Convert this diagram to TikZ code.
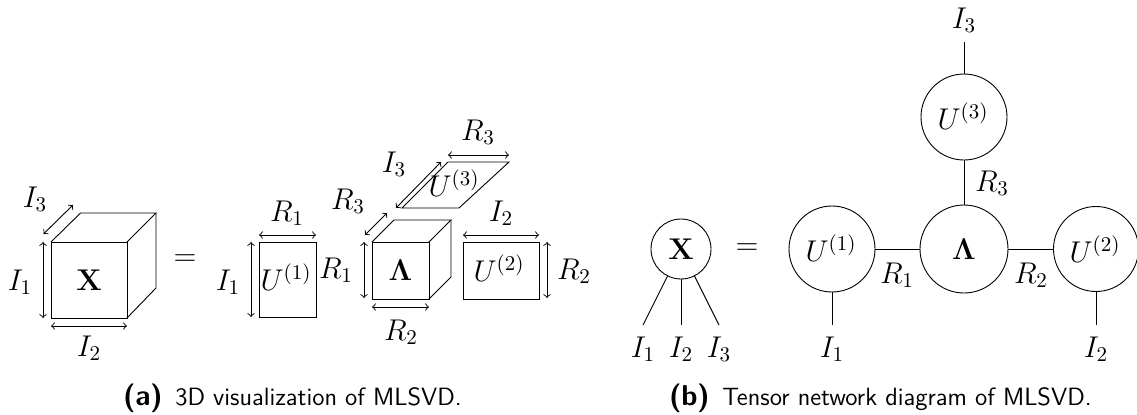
\RequirePackage{fix-cm}
\documentclass[tikz,border=0pt,11pt]{standalone}
\begin{document}
\begin{tikzpicture}[x=0.5pt,y=-0.5pt,line width=0.45pt,
  every node/.style={font=\fontsize{15}{18}\selectfont,inner sep=0pt,outer sep=0pt},
  face/.style={draw,rectangle},
  ball/.style={draw,circle},
  dimline/.style={<->},
  captext/.style={font=\fontsize{12.5}{15}\selectfont\sffamily,anchor=base west}]
\useasboundingbox (0,0) rectangle (1137,414);
% ---- (a) cube X
\node[face,minimum width=38pt,minimum height=38pt] (xf) at (89,280) {$\mathbf{X}$};
\coordinate (xb1) at (80.5,213);
\coordinate (xb2) at (156,213);
\coordinate (xb3) at (156,288);
\draw (xf.north west) -- (xb1) -- (xb2) -- (xf.north east);
\draw (xb2) -- (xb3) -- (xf.south east);
\coordinate (xa1) at (43,242); \coordinate (xa2) at (43,318);
\draw[dimline] (xa1) -- (xa2);
\coordinate (xa3) at (51,326); \coordinate (xa4) at (127,326);
\draw[dimline] (xa3) -- (xa4);
\coordinate (xa5) at (43.5,234); \coordinate (xa6) at (73,205);
\draw[dimline] (xa5) -- (xa6);
\node (lI3a) at (35,199) {$I_3$};
\node (lI1a) at (20,282) {$I_1$};
\node (lI2a) at (89,348) {$I_2$};
\node (eqa) at (185,260) {$=$};
% ---- U1 rectangle
\node[face,minimum width=28.5pt,minimum height=37.5pt] (u1) at (287.5,279.5) {};
\node (u1t) at (286,277) {$U^{(1)}$};
\coordinate (ua1) at (259,235); \coordinate (ua2) at (316,235);
\draw[dimline] (ua1) -- (ua2);
\coordinate (ua3) at (251,242); \coordinate (ua4) at (251,317);
\draw[dimline] (ua3) -- (ua4);
\node (lR1a) at (287,213) {$R_1$};
\node (lI1b) at (228,282) {$I_1$};
\node (lR1b) at (336,270) {$R_1$};
% ---- Lambda cube
\node[face,minimum width=28.5pt,minimum height=28.5pt] (lf) at (400.5,270.5) {$\mathbf{\Lambda}$};
\coordinate (lb1) at (394,220);
\coordinate (lb2) at (451,220);
\coordinate (lb3) at (451,277);
\draw (lf.north west) -- (lb1) -- (lb2) -- (lf.north east);
\draw (lb2) -- (lb3) -- (lf.south east);
\coordinate (la1) at (364,242); \coordinate (la2) at (364,298);
\draw[dimline] (la1) -- (la2);
\coordinate (la3) at (372,307); \coordinate (la4) at (429,307);
\draw[dimline] (la3) -- (la4);
\coordinate (la5) at (365,235); \coordinate (la6) at (387,213);
\draw[dimline] (la5) -- (la6);
\node (lR3a) at (348,201) {$R_3$};
\node (lR2a) at (401,332) {$R_2$};
% ---- U3 slab
\coordinate (s1) at (402,208);
\coordinate (s2) at (459,208);
\coordinate (s3) at (509,162);
\coordinate (s4) at (448,162);
\draw (s1) -- (s2) -- (s3) -- (s4) -- cycle;
\node (u3a) at (454,183) {$U^{(3)}$};
\coordinate (sa1) at (448,155); \coordinate (sa2) at (509,155);
\draw[dimline] (sa1) -- (sa2);
\coordinate (sa3) at (396,208); \coordinate (sa4) at (441,162);
\draw[dimline] (sa3) -- (sa4);
\node (lR3b) at (478,132) {$R_3$};
\node (lI3b) at (394,164) {$I_3$};
% ---- U2 rectangle
\node[face,minimum width=38pt,minimum height=28.5pt] (u2) at (501,270.5) {};
\node (u2t) at (499,268) {$U^{(2)}$};
\coordinate (va1) at (463,235); \coordinate (va2) at (539,235);
\draw[dimline] (va1) -- (va2);
\coordinate (va3) at (547,242); \coordinate (va4) at (547,298);
\draw[dimline] (va3) -- (va4);
\node (lI2b) at (501,213) {$I_2$};
\node (lR2b) at (574,271) {$R_2$};
\node[captext] (capa) at (123,405) {\textbf{\fontsize{14.4}{17}\selectfont (a)}\hspace{0.5em}3D visualization of MLSVD.};
% ---- (b) network
\node[ball,minimum size=30pt] (bx) at (681,249) {$\mathbf{X}$};
\coordinate (bi1) at (643,325); \coordinate (bi2) at (681,325); \coordinate (bi3) at (719,325);
\draw (bx) -- (bi1);
\draw (bx) -- (bi2);
\draw (bx) -- (bi3);
\node (tI1) at (643,349) {$I_1$};
\node (tI2) at (681,349) {$I_2$};
\node (tI3) at (719,349) {$I_3$};
\node (eqb) at (747,249) {$=$};
\node[ball,minimum size=43pt] (bu1) at (832,249) {};
\node (bu1t) at (831,248) {$U^{(1)}$};
\node[ball,minimum size=44pt] (bl) at (964,249) {$\mathbf{\Lambda}$};
\node[ball,minimum size=43pt] (bu3) at (964,117) {};
\node (bu3t) at (963,116) {$U^{(3)}$};
\node[ball,minimum size=42.5pt] (bu2) at (1096,249) {};
\node (bu2t) at (1095,249) {$U^{(2)}$};
\coordinate (bj1) at (832,325); \coordinate (bj2) at (1096,325); \coordinate (bj3) at (964,42);
\draw (bu1) -- (bl);
\draw (bl) -- (bu2);
\draw (bl) -- (bu3);
\draw (bu1) -- (bj1);
\draw (bu2) -- (bj2);
\draw (bu3) -- (bj3);
\node (tJ1) at (832,349) {$I_1$};
\node (tJ2) at (1096,349) {$I_2$};
\node (tJ3) at (964,20) {$I_3$};
\node (tR1) at (897,275) {$R_1$};
\node (tR2) at (1031,275) {$R_2$};
\node (tR3) at (992,183) {$R_3$};
\node[captext] (capb) at (669,405) {\textbf{\fontsize{14.4}{17}\selectfont (b)}\hspace{0.5em}Tensor network diagram of MLSVD.};
\end{tikzpicture}
\end{document}
